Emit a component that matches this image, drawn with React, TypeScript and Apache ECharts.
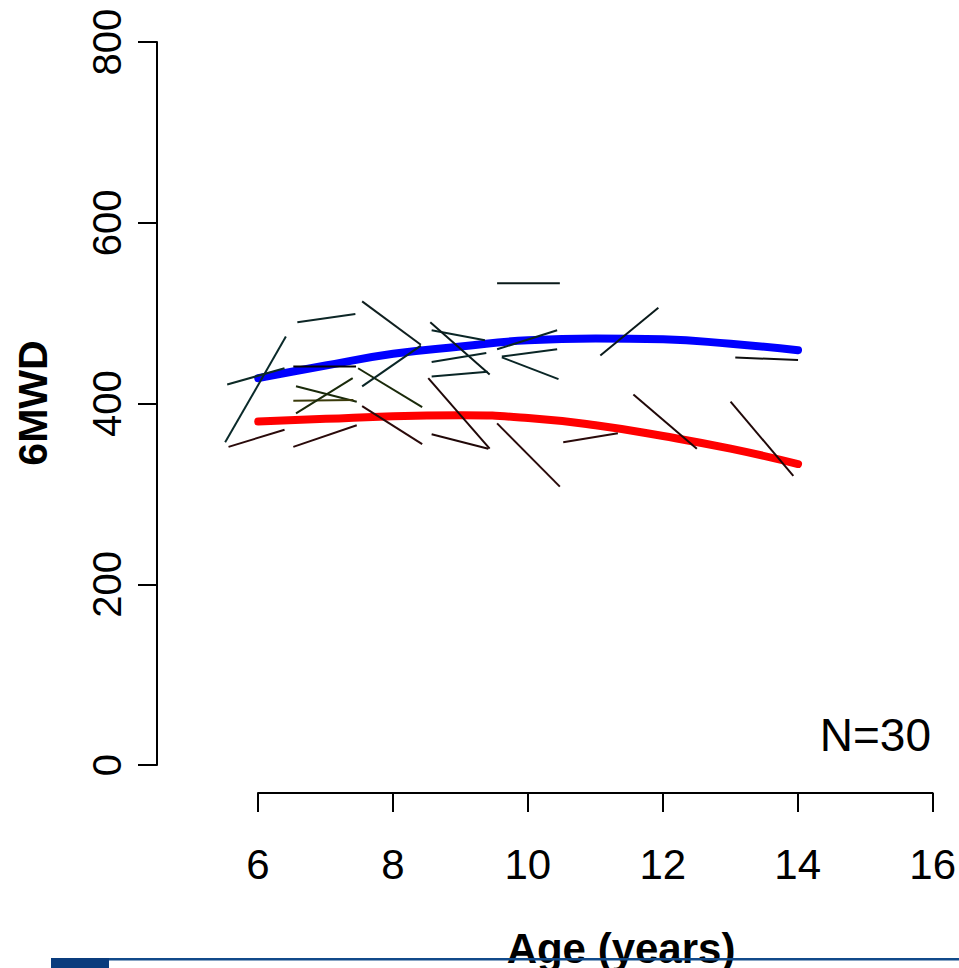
import React, { useEffect, useRef } from "react";
import * as echarts from "echarts";

// Fitted mean curves (age in years -> 6MWD)
const ages = [6, 7, 8, 9, 10, 11, 12, 13, 14];
const blueFit = [428, 442, 455, 463, 470, 472, 471, 466, 459];
const redFit = [380, 383, 386, 387, 384, 376, 364, 350, 333];

// Individual patient trajectories: [age1, 6MWD1, age2, 6MWD2]
const segments: number[][] = [
  [6.58, 490, 7.44, 499],
  [7.54, 513, 8.41, 465],
  [5.51, 357, 6.41, 474],
  [5.54, 421, 6.39, 439],
  [6.52, 441, 7.45, 441],
  [7.48, 439, 8.43, 396],
  [7.54, 419, 8.41, 464],
  [6.56, 419, 7.46, 402],
  [6.52, 403, 7.41, 404],
  [6.56, 389, 7.4, 428],
  [7.54, 397, 8.43, 355],
  [5.56, 352, 6.39, 371],
  [6.52, 352, 7.46, 376],
  [9.54, 533, 10.47, 533],
  [8.57, 481, 9.36, 470],
  [8.55, 490, 9.43, 432],
  [8.57, 446, 9.38, 456],
  [8.57, 430, 9.4, 435],
  [9.54, 460, 10.43, 481],
  [9.61, 452, 10.43, 460],
  [9.61, 451, 10.45, 427],
  [8.52, 428, 9.43, 350],
  [8.57, 366, 9.41, 350],
  [9.54, 378, 10.47, 308],
  [10.52, 357, 11.33, 367],
  [11.07, 453, 11.93, 506],
  [13.07, 451, 14.0, 448],
  [11.56, 410, 12.5, 350],
  [13.0, 402, 13.93, 320],
];
const segmentColors = [
  "#0d2626", "#102020", "#0a2a2a", "#0d2a26", "#050505", "#1a2a0a",
  "#0a2626", "#1a2a0a", "#3a3a0a", "#1a2a0a", "#2a0a0a", "#2a0a0a",
  "#2a0a0a", "#0a1a1a", "#0a2626", "#0a1a1a", "#0a2626", "#0a2626",
  "#0a2626", "#0a2626", "#0a2626", "#200808", "#200808", "#2a0a0a",
  "#2a0a0a", "#0a1a1a", "#101010", "#200808", "#200808",
];

const yTicks = [0, 200, 400, 600, 800];
const xTicks = [6, 8, 10, 12, 14, 16];

const FONT = "'Liberation Sans', Arial, Helvetica, sans-serif";

export default function App() {
  const ref = useRef<HTMLDivElement>(null);

  useEffect(() => {
    if (!ref.current) return;
    const chart = echarts.init(ref.current, undefined, { renderer: "svg" });

    const segSeries = segments.map((s, i) => ({
      type: "line",
      xAxisIndex: 0,
      yAxisIndex: 0,
      data: [
        [s[0], s[1]],
        [s[2], s[3]],
      ],
      symbol: "none",
      silent: true,
      z: 5,
      lineStyle: { color: segmentColors[i % segmentColors.length], width: 2 },
    }));

    chart.setOption({
      animation: false,
      backgroundColor: "#ffffff",
      grid: [
        { left: 157, width: 776, top: 42, height: 723 },
        { left: 258, width: 675, top: 700, height: 93 },
      ],
      xAxis: [
        { type: "value", gridIndex: 0, min: 4.5, max: 16, show: false },
        {
          type: "value",
          gridIndex: 1,
          min: xTicks[0],
          max: xTicks[xTicks.length - 1],
          interval: 2,
          axisLine: { show: true, lineStyle: { color: "#000", width: 2 } },
          axisTick: { show: true, inside: false, length: 19, lineStyle: { color: "#000", width: 2 } },
          axisLabel: { fontSize: 42, color: "#000", fontFamily: FONT, margin: 50 },
          splitLine: { show: false },
        },
      ],
      yAxis: [
        {
          type: "value",
          gridIndex: 0,
          min: yTicks[0],
          max: yTicks[yTicks.length - 1],
          interval: 200,
          axisLine: { show: true, lineStyle: { color: "#000", width: 2 } },
          axisTick: { show: true, inside: false, length: 19, lineStyle: { color: "#000", width: 2 } },
          axisLabel: { fontSize: 40, color: "#000", fontFamily: FONT, rotate: 90, margin: 30 },
          splitLine: { show: false },
        },
        { type: "value", gridIndex: 1, min: 0, max: 1, show: false },
      ],
      series: [
        {
          type: "line",
          xAxisIndex: 0,
          yAxisIndex: 0,
          data: ages.map((a, i) => [a, blueFit[i]]),
          smooth: true,
          symbol: "none",
          silent: true,
          z: 3,
          lineStyle: { color: "#0000ff", width: 8, cap: "round", join: "round" },
        },
        {
          type: "line",
          xAxisIndex: 0,
          yAxisIndex: 0,
          data: ages.map((a, i) => [a, redFit[i]]),
          smooth: true,
          symbol: "none",
          silent: true,
          z: 3,
          lineStyle: { color: "#ff0000", width: 8, cap: "round", join: "round" },
        },
        ...segSeries,
        { type: "line", xAxisIndex: 1, yAxisIndex: 1, data: [], symbol: "none" },
      ],
      graphic: [
        {
          type: "text",
          x: 33,
          y: 403,
          rotation: Math.PI / 2,
          style: {
            text: "6MWD",
            font: `bold 41px ${FONT}`,
            fill: "#000",
            align: "center",
            verticalAlign: "middle",
          },
        },
        {
          type: "text",
          x: 931,
          y: 735,
          style: {
            text: "N=30",
            font: `46px ${FONT}`,
            fill: "#000",
            align: "right",
            verticalAlign: "middle",
          },
        },
        {
          type: "text",
          x: 621,
          y: 948,
          style: {
            text: "Age (years)",
            font: `bold 42px ${FONT}`,
            fill: "#000",
            align: "center",
            verticalAlign: "middle",
          },
        },
        {
          type: "rect",
          z: 10,
          shape: { x: 108, y: 958, width: 851, height: 2.5 },
          style: { fill: "#114a8a" },
        },
        {
          type: "rect",
          z: 10,
          shape: { x: 51, y: 958, width: 58, height: 10 },
          style: { fill: "#0a3c7d" },
        },
      ],
    });

    return () => chart.dispose();
  }, []);

  return (
    <div
      ref={ref}
      style={{ position: "fixed", left: 0, top: 0, width: 959, height: 968, background: "#fff" }}
    />
  );
}
